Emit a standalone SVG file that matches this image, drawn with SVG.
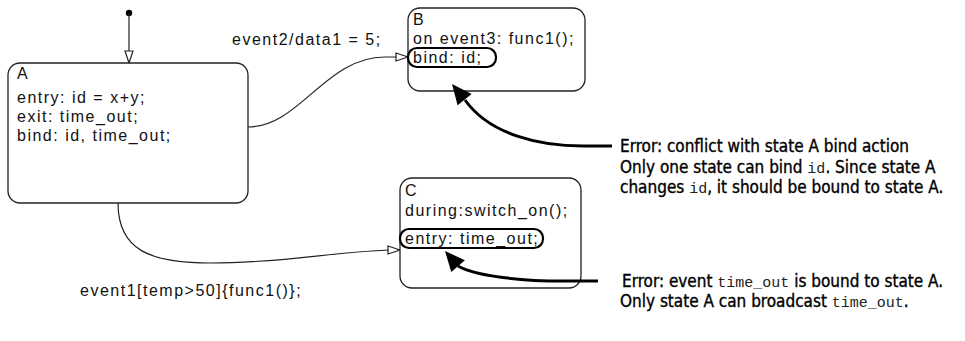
<svg xmlns="http://www.w3.org/2000/svg" width="965" height="341" viewBox="0 0 965 341">
<style>
.st{fill:#fff;stroke:#222;stroke-width:1.3}
.t{font-family:"Liberation Sans",Arial,sans-serif;font-size:16px;letter-spacing:1.5px;fill:#111}
.e{font-family:"DejaVu Sans Condensed","DejaVu Sans",sans-serif;font-stretch:condensed;font-size:17px;fill:#000;stroke:#000;stroke-width:0.35}
.m{font-family:"Liberation Mono",monospace;font-size:15px;stroke:none;fill:#222}
.ln{fill:none;stroke:#222;stroke-width:1.2}
.co{fill:none;stroke:#000;stroke-width:3}
.ov{fill:none;stroke:#000;stroke-width:2.2}
</style>
<defs>
<marker id="oa" markerUnits="userSpaceOnUse" markerWidth="14" markerHeight="10" viewBox="0 0 14 10" refX="13" refY="5" orient="auto">
<path d="M1,1 L13,5 L1,9 Z" fill="#fff" stroke="#222" stroke-width="1.2"/>
</marker>
</defs>
<g id="connectors">
<circle cx="129" cy="13" r="3.2" fill="#000"/>
<path class="ln" d="M129,13 L129,63" marker-end="url(#oa)"/>
<path class="ln" d="M248,127 C300,127 325,57 385,57 L408,57" marker-end="url(#oa)"/>
<path class="ln" d="M118,203 C118,250 150,263 210,263 C290,263 340,250 400,250" marker-end="url(#oa)"/>
<text class="t" x="232" y="45">event2/data1 = 5;</text>
<text class="t" x="80" y="296">event1[temp&gt;50]{func1()};</text>
</g>
<g id="A">
<rect class="st" x="8" y="63" width="240" height="140" rx="12"/>
<text class="t" x="17" y="79">A</text>
<text class="t" x="17" y="103">entry: id = x+y;</text>
<text class="t" x="17" y="122">exit: time_out;</text>
<text class="t" x="17" y="141">bind: id, time_out;</text>
</g>
<g id="B">
<rect class="st" x="408" y="8" width="177" height="83" rx="12"/>
<text class="t" x="413" y="25">B</text>
<text class="t" x="413" y="44">on event3: func1();</text>
<text class="t" x="413" y="63">bind: id;</text>
<rect class="ov" x="408" y="48" width="88" height="19" rx="9"/>
</g>
<g id="C">
<rect class="st" x="400" y="178" width="181" height="110" rx="12"/>
<text class="t" x="405" y="196">C</text>
<text class="t" x="405" y="216">during:switch_on();</text>
<text class="t" x="405" y="244">entry: time_out;</text>
<rect class="ov" x="400" y="229" width="143" height="19" rx="9"/>
</g>
<g id="callout1">
<path class="co" d="M612,146 L583,146 C540,146 490,135 465,100"/>
<polygon points="452,84 471.6,93.9 457.6,105.3" fill="#000"/>
<text class="e" x="620" y="152">Error: conflict with state A bind action</text>
<text class="e" x="620" y="173">Only one state can bind <tspan class="m">id</tspan>. Since state A</text>
<text class="e" x="620" y="193">changes <tspan class="m">id</tspan>, it should be bound to state A.</text>
</g>
<g id="callout2">
<path class="co" d="M598,281 L563,281 C520,281 475,276 458,266"/>
<polygon points="445,251 464.9,260.2 451.3,272" fill="#000"/>
<text class="e" x="622" y="287">Error: event <tspan class="m">time_out</tspan> is bound to state A.</text>
<text class="e" x="620" y="307">Only state A can broadcast <tspan class="m">time_out</tspan>.</text>
</g>
</svg>
